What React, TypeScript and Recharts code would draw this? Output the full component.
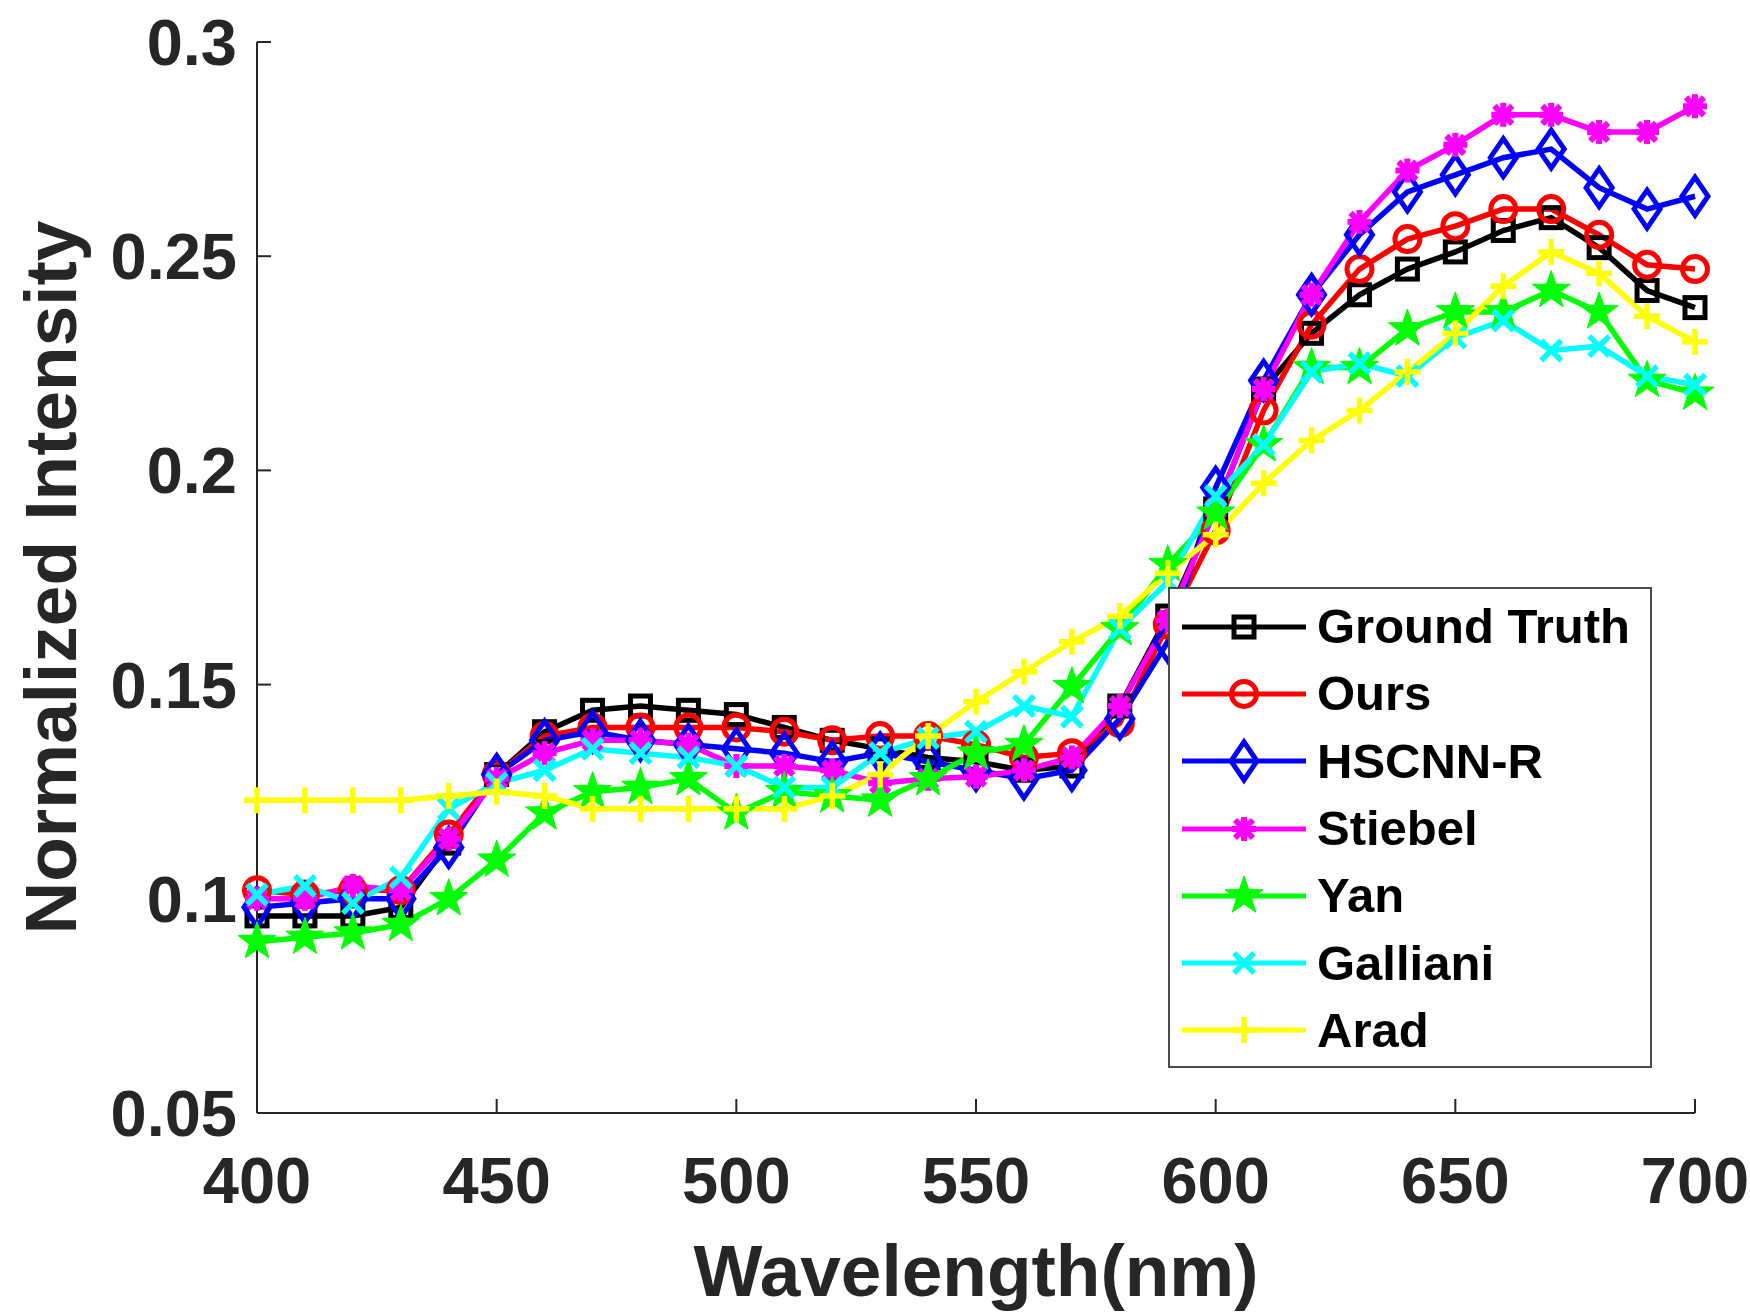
import React from "react";
import { Legend, Line, LineChart, XAxis, YAxis } from "recharts";

const wavelengths = [
  400, 410, 420, 430, 440, 450, 460, 470, 480, 490, 500, 510, 520, 530, 540, 550,
  560, 570, 580, 590, 600, 610, 620, 630, 640, 650, 660, 670, 680, 690, 700,
];

const groundTruth = [
  0.096, 0.096, 0.096, 0.098, 0.113, 0.129, 0.139, 0.144, 0.145, 0.144, 0.143, 0.14,
  0.137, 0.135, 0.133, 0.132, 0.13, 0.131, 0.145, 0.166, 0.191, 0.219, 0.232, 0.241,
  0.247, 0.251, 0.256, 0.259, 0.252, 0.242, 0.238,
];
const ours = [
  0.102, 0.101, 0.102, 0.102, 0.115, 0.129, 0.138, 0.14, 0.14, 0.14, 0.14, 0.139,
  0.137, 0.138, 0.138, 0.136, 0.133, 0.134, 0.141, 0.164, 0.186, 0.214, 0.234, 0.247,
  0.254, 0.257, 0.261, 0.261, 0.255, 0.248, 0.247,
];
const hscnnR = [
  0.098, 0.099, 0.1, 0.1, 0.112, 0.129, 0.137, 0.139, 0.137, 0.136, 0.135, 0.134,
  0.132, 0.134, 0.132, 0.13, 0.128, 0.13, 0.142, 0.16, 0.196, 0.221, 0.241, 0.255,
  0.265, 0.269, 0.273, 0.275, 0.266, 0.261, 0.264,
];
const stiebel = [
  0.1, 0.1, 0.103, 0.102, 0.114, 0.128, 0.134, 0.137, 0.137, 0.136, 0.131, 0.131,
  0.13, 0.127, 0.128, 0.1285, 0.13, 0.133, 0.145, 0.165, 0.191, 0.219, 0.241, 0.258,
  0.27, 0.276, 0.283, 0.283, 0.279, 0.279, 0.285,
];
const yan = [
  0.09, 0.091, 0.092, 0.094, 0.1, 0.109, 0.12, 0.125, 0.126, 0.128, 0.12, 0.125,
  0.124, 0.123, 0.128, 0.134, 0.136, 0.1495, 0.163, 0.178, 0.19, 0.206, 0.224, 0.224,
  0.233, 0.237, 0.237, 0.242, 0.237, 0.221, 0.218,
];
const galliani = [
  0.101, 0.103, 0.099, 0.105, 0.121, 0.127, 0.13, 0.135, 0.134, 0.133, 0.131, 0.126,
  0.126, 0.134, 0.1375, 0.139, 0.145, 0.1425, 0.163, 0.174, 0.194, 0.206, 0.223, 0.225,
  0.222, 0.231, 0.235, 0.228, 0.229, 0.222, 0.22,
];
const arad = [
  0.123, 0.123, 0.123, 0.123, 0.124, 0.125, 0.124, 0.121, 0.121, 0.121, 0.121, 0.121,
  0.124, 0.129, 0.138, 0.146, 0.153, 0.16, 0.166, 0.176, 0.185, 0.197, 0.207, 0.214,
  0.223, 0.232, 0.243, 0.251, 0.246, 0.236, 0.23,
];

const xTicks = [400, 450, 500, 550, 600, 650, 700];
const yTicks = [0.05, 0.1, 0.15, 0.2, 0.25, 0.3];

const FONT = '"Liberation Sans", Arial, Helvetica, sans-serif';
const AXIS_COLOR = "#262626";

type Shape = "square" | "circle" | "diamond" | "asterisk" | "star" | "cross" | "plus";

const series: { key: string; name: string; values: number[]; color: string; shape: Shape }[] = [
  { key: "gt", name: "Ground Truth", values: groundTruth, color: "#000000", shape: "square" },
  { key: "ours", name: "Ours", values: ours, color: "#ff0000", shape: "circle" },
  { key: "hscnn", name: "HSCNN-R", values: hscnnR, color: "#0000ff", shape: "diamond" },
  { key: "stiebel", name: "Stiebel", values: stiebel, color: "#ff00ff", shape: "asterisk" },
  { key: "yan", name: "Yan", values: yan, color: "#00ff00", shape: "star" },
  { key: "galliani", name: "Galliani", values: galliani, color: "#00ffff", shape: "cross" },
  { key: "arad", name: "Arad", values: arad, color: "#ffff00", shape: "plus" },
];

const data = wavelengths.map((w, i) => {
  const row: Record<string, number> = { wavelength: w };
  series.forEach((s) => {
    row[s.key] = s.values[i];
  });
  return row;
});

function starPoints(cx: number, cy: number, R: number, r: number) {
  const pts: string[] = [];
  for (let k = 0; k < 10; k++) {
    const rad = k % 2 === 0 ? R : r;
    const a = -Math.PI / 2 + (k * Math.PI) / 5;
    pts.push(`${cx + rad * Math.cos(a)},${cy + rad * Math.sin(a)}`);
  }
  return pts.join(" ");
}

function Marker({ shape, color, cx, cy }: { shape: Shape; color: string; cx: number; cy: number }) {
  if (cx == null || cy == null || isNaN(cx) || isNaN(cy)) return null;
  switch (shape) {
    case "square":
      return <rect x={cx - 10} y={cy - 10} width={20} height={20} fill="none" stroke={color} strokeWidth={5} />;
    case "circle":
      return <circle cx={cx} cy={cy} r={12.5} fill="none" stroke={color} strokeWidth={5} />;
    case "diamond":
      return (
        <polygon
          points={`${cx},${cy - 19} ${cx + 13},${cy} ${cx},${cy + 19} ${cx - 13},${cy}`}
          fill="none"
          stroke={color}
          strokeWidth={5}
        />
      );
    case "asterisk":
      return (
        <g stroke={color} strokeWidth={6} strokeLinecap="butt">
          <line x1={cx - 12} y1={cy} x2={cx + 12} y2={cy} />
          <line x1={cx} y1={cy - 12} x2={cx} y2={cy + 12} />
          <line x1={cx - 9} y1={cy - 9} x2={cx + 9} y2={cy + 9} />
          <line x1={cx - 9} y1={cy + 9} x2={cx + 9} y2={cy - 9} />
          <circle cx={cx} cy={cy} r={7} fill={color} stroke="none" />
        </g>
      );
    case "star":
      return <polygon points={starPoints(cx, cy, 20, 8)} fill={color} stroke={color} strokeWidth={1} />;
    case "cross":
      return (
        <g stroke={color} strokeWidth={5.5}>
          <line x1={cx - 10} y1={cy - 10} x2={cx + 10} y2={cy + 10} />
          <line x1={cx - 10} y1={cy + 10} x2={cx + 10} y2={cy - 10} />
        </g>
      );
    case "plus":
      return (
        <g stroke={color} strokeWidth={5.5}>
          <line x1={cx - 13} y1={cy} x2={cx + 13} y2={cy} />
          <line x1={cx} y1={cy - 13} x2={cx} y2={cy + 13} />
        </g>
      );
  }
  return null;
}

const seriesIndex = (name: string) => series.findIndex((s) => s.name === name);

const renderLegend = (props: any) => {
  const payload = [...(props.payload || [])].sort(
    (a: any, b: any) => seriesIndex(a.value) - seriesIndex(b.value)
  );
  return (
    <div
      style={{
        boxSizing: "border-box",
        width: 484,
        height: 481,
        border: "2px solid #4a4a4a",
        background: "#ffffff",
        paddingTop: 4,
      }}
    >
      {payload.map((entry: any) => {
        const s = series[seriesIndex(entry.value)];
        if (!s) return null;
        return (
          <div key={s.key} style={{ display: "flex", alignItems: "center", height: 67.3 }}>
            <svg width={138} height={50} style={{ flex: "none" }}>
              <line x1={12} y1={25} x2={136} y2={25} stroke={s.color} strokeWidth={5} />
              <Marker shape={s.shape} color={s.color} cx={74} cy={25} />
            </svg>
            <span
              style={{
                marginLeft: 9,
                fontFamily: FONT,
                fontWeight: 700,
                fontSize: 49,
                color: "#000",
                lineHeight: 1,
                whiteSpace: "nowrap",
              }}
            >
              {entry.value}
            </span>
          </div>
        );
      })}
    </div>
  );
};

const tickStyle = { fontFamily: FONT, fontWeight: 700, fontSize: 65, fill: AXIS_COLOR };

export default function App() {
  return (
    <div style={{ position: "absolute", left: 0, top: 0, width: 1750, height: 1313, background: "#fff" }}>
      <LineChart width={1750} height={1313} data={data} margin={{ top: 42, right: 55, bottom: 0, left: 57 }}>
        <XAxis
          dataKey="wavelength"
          type="number"
          domain={[400, 700]}
          ticks={xTicks}
          height={200}
          tickSize={-14}
          tickMargin={58}
          tick={tickStyle}
          axisLine={{ stroke: AXIS_COLOR, strokeWidth: 2 }}
          tickLine={{ stroke: AXIS_COLOR, strokeWidth: 2 }}
          label={{
            content: (p: any) => (
              <text
                x={p.viewBox.x + p.viewBox.width / 2}
                y={p.viewBox.y + 183}
                textAnchor="middle"
                fontFamily={FONT}
                fontWeight={700}
                fontSize={73}
                fill={AXIS_COLOR}
              >
                Wavelength(nm)
              </text>
            ),
          }}
        />
        <YAxis
          type="number"
          domain={[0.05, 0.3]}
          ticks={yTicks}
          width={200}
          tickSize={-14}
          tickMargin={34}
          tick={tickStyle}
          axisLine={{ stroke: AXIS_COLOR, strokeWidth: 2 }}
          tickLine={{ stroke: AXIS_COLOR, strokeWidth: 2 }}
          allowDataOverflow
          label={{
            content: (p: any) => {
              const x = 76;
              const y = p.viewBox.y + p.viewBox.height / 2;
              return (
                <text
                  x={x}
                  y={y}
                  transform={`rotate(-90, ${x}, ${y})`}
                  textAnchor="middle"
                  fontFamily={FONT}
                  fontWeight={700}
                  fontSize={73}
                  fill={AXIS_COLOR}
                >
                  Normalized Intensity
                </text>
              );
            },
          }}
        />
        {series.map((s) => (
          <Line
            key={s.key}
            dataKey={s.key}
            name={s.name}
            type="linear"
            stroke={s.color}
            strokeWidth={5.5}
            isAnimationActive={false}
            dot={(p: any) => (
              <g key={`${s.key}-${p.index}`}>
                <Marker shape={s.shape} color={s.color} cx={p.cx} cy={p.cy} />
              </g>
            )}
            activeDot={false}
          />
        ))}
        <Legend
          layout="vertical"
          align="center"
          verticalAlign="middle"
          content={renderLegend}
          wrapperStyle={{ left: 1168, top: 587, width: 484, height: 481 }}
        />
      </LineChart>
    </div>
  );
}
